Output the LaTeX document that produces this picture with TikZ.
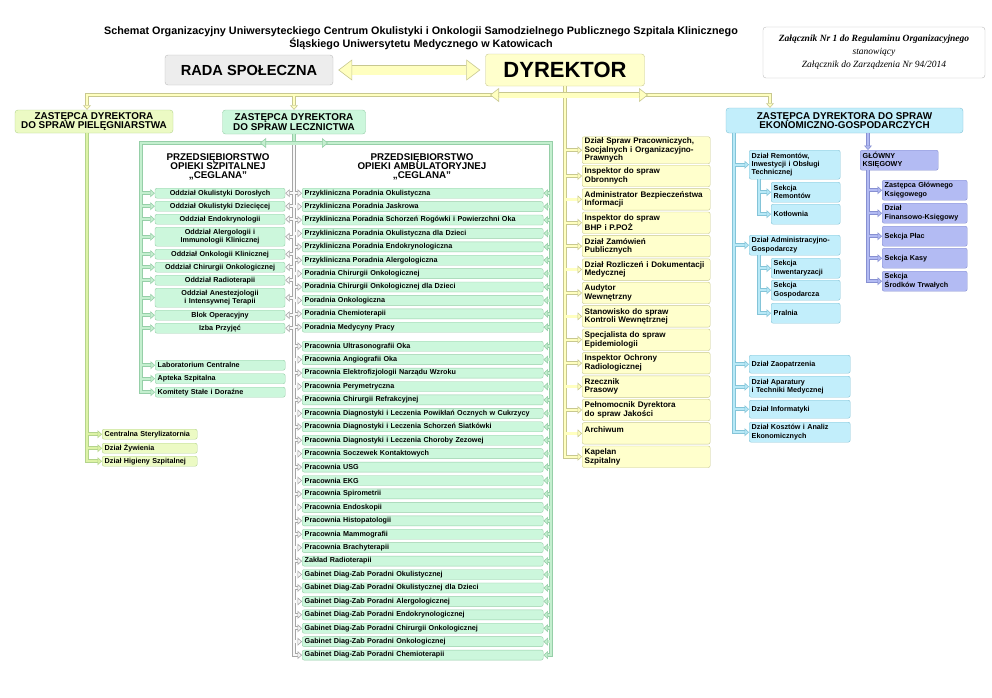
\documentclass[tikz,border=0pt]{standalone}
\usepackage{fontspec}
\setmainfont{Liberation Sans}
\newfontfamily\annexfont{Liberation Serif}
\usetikzlibrary{positioning,arrows.meta}
\definecolor{DyrFill}{HTML}{FFFFCC}
\definecolor{DyrLine}{HTML}{C8C890}
\definecolor{DyrLink}{HTML}{FFFFC0}
\definecolor{RadaFill}{HTML}{EDEDED}
\definecolor{RadaLine}{HTML}{BDBDBD}
\definecolor{PielFill}{HTML}{ECFAC4}
\definecolor{PielLine}{HTML}{B4D48C}
\definecolor{PielLink}{HTML}{DDF3A6}
\definecolor{LeczFill}{HTML}{CCF7DC}
\definecolor{LeczLine}{HTML}{96CFA8}
\definecolor{LeczLink}{HTML}{C4EFCF}
\definecolor{EkoFill}{HTML}{C2EEFB}
\definecolor{EkoLine}{HTML}{84C4D8}
\definecolor{EkoLink}{HTML}{B8E9F7}
\definecolor{KsiegFill}{HTML}{B3BBF3}
\definecolor{KsiegLine}{HTML}{8790D2}
\definecolor{MidLine}{HTML}{A6A6A6}
\definecolor{MidFill}{HTML}{F8F8F8}

\tikzset{
  box/.style={draw, rounded corners=2pt, inner xsep=2.5pt, inner ysep=1pt,
    font=\bfseries\fontsize{7.2}{8.3}\selectfont},
  hosp/.style={box, fill=LeczFill, draw=LeczLine, text width=125pt, align=center, minimum height=10pt},
  amb/.style={box, fill=LeczFill, draw=LeczLine, text width=236pt, align=left, minimum height=10pt},
  dzial/.style={box, fill=DyrFill, draw=DyrLine, text width=123pt, align=left, minimum height=21.5pt,
    font=\bfseries\fontsize{8.1}{8.5}\selectfont},
  piele/.style={box, fill=PielFill, draw=PielLine, text width=90pt, align=left, minimum height=10pt},
  ekon/.style={box, fill=EkoFill, draw=EkoLine, align=left},
  ksieg/.style={box, fill=KsiegFill, draw=KsiegLine, text width=80pt, align=left, minimum height=20pt},
  deputy/.style={draw, rounded corners=3pt, align=center, inner sep=1pt,
    font=\bfseries\fontsize{9.9}{9.8}\selectfont},
  title/.style={align=center, font=\bfseries\fontsize{9.8}{9}\selectfont},
  lnk/.style 2 args={draw=#1, double=#2, line width=0.6pt, double distance=2.4pt},
  tip/.style={-{Triangle[length=4.5pt, width=8pt, line width=0.6pt, fill=#1]}},
  tips/.style={{Triangle[length=4.5pt, width=8pt, line width=0.6pt, fill=#1]}-{Triangle[length=4.5pt, width=8pt, line width=0.6pt, fill=#1]}},
  br/.style={shorten <=1.2pt},
}

\begin{document}
\begin{tikzpicture}[x=1pt, y=-1pt]
  \path[fill=white] (0,0) rectangle (992,697);
  \useasboundingbox (0,0) rectangle (992,697);

  \node[align=center, font=\bfseries\fontsize{10.8}{13}\selectfont] (head) at (421,38.5)
    {Schemat Organizacyjny Uniwersyteckiego Centrum Okulistyki i Onkologii Samodzielnego Publicznego Szpitala Klinicznego\\
     Śląskiego Uniwersytetu Medycznego w Katowicach};
  \node[draw=RadaLine, fill=white, rounded corners=3pt, minimum width=222pt, minimum height=51pt,
        align=center, font=\annexfont\itshape\fontsize{9.5}{13}\selectfont] (annex) at (874,52.5)
    {\textbf{Załącznik Nr 1 do Regulaminu Organizacyjnego}\\stanowiący\\Załącznik do Zarządzenia Nr 94/2014};

  \node[draw=RadaLine, fill=RadaFill, rounded corners=3pt, minimum width=168pt, minimum height=30pt,
        font=\bfseries\fontsize{14.6}{14}\selectfont] (rada) at (249,70) {RADA SPOŁECZNA};
  \node[draw=DyrLine, fill=DyrFill, rounded corners=3pt, minimum width=159pt, minimum height=32pt,
        font=\bfseries\fontsize{22}{22}\selectfont] (dyr) at (565,70) {DYREKTOR};

  \node[deputy, fill=PielFill, draw=PielLine, minimum width=158pt, minimum height=23pt] (piel) at (94,121.5)
    {ZASTĘPCA DYREKTORA\\DO SPRAW PIELĘGNIARSTWA};
  \node[deputy, fill=LeczFill, draw=LeczLine, minimum width=143pt, minimum height=24pt] (lecz) at (294,122)
    {ZASTĘPCA DYREKTORA\\DO SPRAW LECZNICTWA};
  \node[deputy, fill=EkoFill, draw=EkoLine, minimum width=237pt, minimum height=25pt] (eko) at (844.5,120.5)
    {ZASTĘPCA DYREKTORA DO SPRAW\\EKONOMICZNO-GOSPODARCZYCH};

  % pielegniarstwo
  \foreach \txt/\yt [count=\i] in {Centralna Sterylizatornia/429, Dział Żywienia/443, Dział Higieny Szpitalnej/456}
    \node[piele, anchor=north west] (pk\i) at (102,\yt) {\txt};

  % lecznictwo
  \node[title] (szpit) at (218,167) {PRZEDSIĘBIORSTWO\\OPIEKI SZPITALNEJ\\„CEGLANA”};
  \node[title] (ambul) at (422,167) {PRZEDSIĘBIORSTWO\\OPIEKI AMBULATORYJNEJ\\„CEGLANA”};
  \foreach \txt/\yt/\h [count=\i] in {
      Oddział Okulistyki Dorosłych/188/10,
      Oddział Okulistyki Dziecięcej/201/10,
      Oddział Endokrynologii/214/10,
      Oddział Alergologii i\\Immunologii Klinicznej/227/19,
      Oddział Onkologii Klinicznej/249/10,
      Oddział Chirurgii Onkologicznej/262/10,
      Oddział Radioterapii/275/10,
      Oddział Anestezjologii\\i Intensywnej Terapii/288/19,
      Blok Operacyjny/310/10,
      Izba Przyjęć/323/10}
    \node[hosp, minimum height=\h, anchor=north] (odd\i) at (220,\yt) {\txt};
  \foreach \txt/\yt [count=\i] in {Laboratorium Centralne/360, Apteka Szpitalna/373.5, Komitety Stałe i Doraźne/387}
    \node[hosp, align=left, anchor=north west] (lab\i) at (155,\yt) {\txt};
  \foreach \txt [count=\i] in {
      Przykliniczna Poradnia Okulistyczna,
      Przykliniczna Poradnia Jaskrowa,
      Przykliniczna Poradnia Schorzeń Rogówki i Powierzchni Oka,
      Przykliniczna Poradnia Okulistyczna dla Dzieci,
      Przykliniczna Poradnia Endokrynologiczna,
      Przykliniczna Poradnia Alergologiczna,
      Poradnia Chirurgii Onkologicznej,
      Poradnia Chirurgii Onkologicznej dla Dzieci,
      Poradnia Onkologiczna,
      Poradnia Chemioterapii,
      Poradnia Medycyny Pracy}
    \node[amb, anchor=north west] (por\i) at (302,{188+13.4*(\i-1)}) {\txt};
  \foreach \txt [count=\i] in {
      Pracownia Ultrasonografii Oka,
      Pracownia Angiografii Oka,
      Pracownia Elektrofizjologii Narządu Wzroku,
      Pracownia Perymetryczna,
      Pracownia Chirurgii Refrakcyjnej,
      Pracownia Diagnostyki i Leczenia Powikłań Ocznych w Cukrzycy,
      Pracownia Diagnostyki i Leczenia Schorzeń Siatkówki,
      Pracownia Diagnostyki i Leczenia Choroby Zezowej,
      Pracownia Soczewek Kontaktowych,
      Pracownia USG,
      Pracownia EKG,
      Pracownia Spirometrii,
      Pracownia Endoskopii,
      Pracownia Histopatologii,
      Pracownia Mammografii,
      Pracownia Brachyterapii,
      Zakład Radioterapii,
      Gabinet Diag-Zab Poradni Okulistycznej,
      Gabinet Diag-Zab Poradni Okulistycznej dla Dzieci,
      Gabinet Diag-Zab Poradni Alergologicznej,
      Gabinet Diag-Zab Poradni Endokrynologicznej,
      Gabinet Diag-Zab Poradni Chirurgii Onkologicznej,
      Gabinet Diag-Zab Poradni Onkologicznej,
      Gabinet Diag-Zab Poradni Chemioterapii}
    \node[amb, anchor=north west] (pra\i) at (302,{341+13.43*(\i-1)}) {\txt};

  % dyrektor
  \node[dzial, minimum height=27, anchor=north west] (dz1) at (582,136.5)
    {Dział Spraw Pracowniczych,\\Socjalnych i Organizacyjno-\\Prawnych};
  \foreach \txt [count=\i from 2] in {
      Inspektor do spraw\\Obronnych,
      Administrator Bezpieczeństwa\\Informacji,
      Inspektor do spraw\\BHP i P.POŻ,
      Dział Zamówień\\Publicznych,
      Dział Rozliczeń i Dokumentacji\\Medycznej,
      Audytor\\Wewnętrzny,
      Stanowisko do spraw\\Kontroli Wewnętrznej,
      Specjalista do spraw\\Epidemiologii,
      Inspektor Ochrony\\Radiologicznej,
      Rzecznik\\Prasowy,
      Pełnomocnik Dyrektora\\do spraw Jakości,
      Archiwum\\\mbox{},
      Kapelan\\Szpitalny}
    \node[dzial, anchor=north west] (dz\i) at (582,{165+23.4*(\i-2)}) {\txt};

  % ekonomiczno-gospodarczy
  \node[ekon, text width=86pt, minimum height=29, anchor=north west] (remont) at (749,150)
    {Dział Remontów,\\Inwestycji i Obsługi\\Technicznej};
  \node[ekon, text width=86pt, minimum height=20, anchor=north west] (admin) at (749,235)
    {Dział Administracyjno-\\Gospodarczy};
  \foreach \txt/\yt [count=\i] in {Sekcja\\Remontów/182, Kotłownia/204, Sekcja\\Inwentaryzacji/258,
      Sekcja\\Gospodarcza/280, Pralnia/303}
    \node[ekon, text width=64pt, minimum height=20, anchor=north west] (sek\i) at (771,\yt) {\txt};
  \foreach \txt/\yt/\h [count=\i] in {Dział Zaopatrzenia/355/18, Dział Aparatury\\i Techniki Medycznej/376/21,
      Dział Informatyki/400/18, Dział Kosztów i Analiz\\Ekonomicznych/422/20}
    \node[ekon, text width=96pt, minimum height=\h, anchor=north west] (ek\i) at (749,\yt) {\txt};
  \node[ksieg, text width=73pt, anchor=north west] (gk) at (860,150) {GŁÓWNY\\KSIĘGOWY};
  \foreach \txt/\yt [count=\i] in {Zastępca Głównego\\Księgowego/180, Dział\\Finansowo-Księgowy/203,
      Sekcja Płac/226, Sekcja Kasy/248, Sekcja\\Środków Trwałych/271}
    \node[ksieg, anchor=north west] (ks\i) at (882,\yt) {\txt};

  % connectors
  \coordinate (barL) at (87,95);
  \coordinate (barM) at (294,95);
  \coordinate (barR) at (770,95);
  \coordinate (dl) at (490,95);
  \coordinate (dr) at (648,95);
  \coordinate (gl) at (141,143);
  \coordinate (gm) at (294,143);
  \coordinate (gr) at (551,143);
  \coordinate (ga) at (260,143);
  \coordinate (gb) at (328,143);
  \coordinate (etr) at (734,0);
  \coordinate (str) at (759,0);
  \coordinate (ktr) at (868,0);

  \draw[draw=DyrLine, double=DyrLink, line width=0.6pt, double distance=9pt, shorten <=5pt, shorten >=5pt,
        {Triangle[length=14pt, width=21pt, line width=0.6pt, fill=DyrLink]}-{Triangle[length=14pt, width=21pt, line width=0.6pt, fill=DyrLink]}]
    (rada.east) -- (dyr.west);
  \draw[lnk={DyrLine}{DyrLink}, tips=DyrLink] (barL |- piel.north) -- (barL) -- (barR) -- (barR |- eko.north);
  \draw[lnk={DyrLine}{DyrLink}, tip=DyrLink, br] (barM) -- (barM |- lecz.north);
  \draw[lnk={DyrLine}{DyrLink}, tip=DyrLink] (dyr.south) |- (dz14.west);
  \draw[draw=DyrLine, double=DyrLink, line width=0.6pt, double distance=5pt,
        {Triangle[length=9pt, width=14pt, line width=0.6pt, fill=DyrLink]}-{Triangle[length=9pt, width=14pt, line width=0.6pt, fill=DyrLink]}]
    (dl) -- (dr);
  \foreach \i in {1,...,13}
    \draw[lnk={DyrLine}{DyrLink}, tip=DyrLink, br] (dyr.south |- dz\i.west) -- (dz\i.west);

  \draw[lnk={PielLine}{PielLink}, tip=PielLink] (barL |- piel.south) |- (pk3.west);
  \foreach \i in {1,2}
    \draw[lnk={PielLine}{PielLink}, tip=PielLink, br] (barL |- pk\i.west) -- (pk\i.west);

  \draw[lnk={LeczLine}{LeczLink}] (lecz.south) -- (gm);
  \draw[lnk={LeczLine}{LeczLink}, tips=LeczLink] (pra24.east) -| (gr) -- (gl) |- (lab3.west);
  \draw[lnk={MidLine}{MidFill}, tip=MidFill] (gm) |- (pra24.west);
  \draw[draw=LeczLine, double=LeczLink, line width=0.6pt, double distance=3pt,
        {Triangle[length=6pt, width=10pt, line width=0.6pt, fill=LeczLink]}-{Triangle[length=6pt, width=10pt, line width=0.6pt, fill=LeczLink]}]
    (ga) -- (gb);
  \foreach \i in {1,...,10}{
    \draw[lnk={LeczLine}{LeczLink}, tip=LeczLink, br] (gl |- odd\i.west) -- (odd\i.west);
    \draw[lnk={MidLine}{MidFill}, tip=MidFill, br] (gm |- odd\i.east) -- (odd\i.east);
  }
  \foreach \i in {1,2}
    \draw[lnk={LeczLine}{LeczLink}, tip=LeczLink, br] (gl |- lab\i.west) -- (lab\i.west);
  \foreach \n in {por1,por2,por3,por4,por5,por6,por7,por8,por9,por10,por11,
                  pra1,pra2,pra3,pra4,pra5,pra6,pra7,pra8,pra9,pra10,pra11,pra12,
                  pra13,pra14,pra15,pra16,pra17,pra18,pra19,pra20,pra21,pra22,pra23}{
    \draw[lnk={MidLine}{MidFill}, tip=MidFill, br] (gm |- \n.west) -- (\n.west);
    \draw[lnk={LeczLine}{LeczLink}, tip=LeczLink, br] (gr |- \n.east) -- (\n.east);
  }

  \draw[lnk={EkoLine}{EkoLink}, tip=EkoLink] (etr |- eko.south) |- (ek4.west);
  \foreach \n in {remont,admin,ek1,ek2,ek3}
    \draw[lnk={EkoLine}{EkoLink}, tip=EkoLink, br] (etr |- \n.west) -- (\n.west);
  \draw[lnk={EkoLine}{EkoLink}, tip=EkoLink] (str |- remont.south) |- (sek2.west);
  \draw[lnk={EkoLine}{EkoLink}, tip=EkoLink, br] (str |- sek1.west) -- (sek1.west);
  \draw[lnk={EkoLine}{EkoLink}, tip=EkoLink] (str |- admin.south) |- (sek5.west);
  \foreach \i in {3,4}
    \draw[lnk={EkoLine}{EkoLink}, tip=EkoLink, br] (str |- sek\i.west) -- (sek\i.west);
  \draw[lnk={KsiegLine}{KsiegFill}, tip=KsiegFill] (ktr |- eko.south) -- (ktr |- gk.north);
  \draw[lnk={KsiegLine}{KsiegFill}, tip=KsiegFill] (ktr |- gk.south) |- (ks5.west);
  \foreach \i in {1,...,4}
    \draw[lnk={KsiegLine}{KsiegFill}, tip=KsiegFill, br] (ktr |- ks\i.west) -- (ks\i.west);
\end{tikzpicture}
\end{document}
